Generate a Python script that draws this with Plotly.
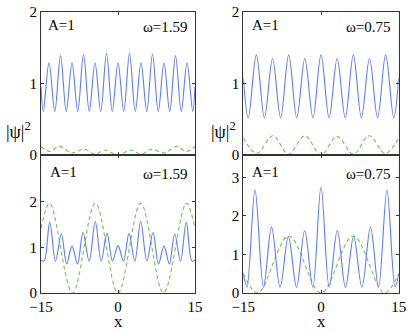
import plotly.graph_objects as go

# ---------------- data (extrema of each curve) ----------------
# top-left panel (omega = 1.59)
tl_blue_x = [-15, -14.56, -13.44, -12.32, -11.2, -10.08, -8.96, -7.84, -6.72, -5.6, -4.48, -3.36, -2.24, -1.12,
             0, 1.12, 2.24, 3.36, 4.48, 5.6, 6.72, 7.84, 8.96, 10.08, 11.2, 12.32, 13.44, 14.56, 15]
tl_blue_y = [0.95, 0.61, 1.29, 0.61, 1.39, 0.61, 1.29, 0.61, 1.41, 0.61, 1.29, 0.61, 1.42, 0.61,
             1.29, 0.61, 1.42, 0.61, 1.29, 0.61, 1.41, 0.61, 1.29, 0.61, 1.39, 0.61, 1.29, 0.61, 0.95]
tl_green_x = [-15, -13.3, -11.4, -9.1, -6.5, -4.5, -2.6, 0, 2.6, 4.5, 6.5, 9.1, 11.4, 13.3, 15]
tl_green_y = [0.12, 0.05, 0.12, 0.03, 0.08, 0.01, 0.07, 0.0, 0.07, 0.01, 0.08, 0.03, 0.12, 0.05, 0.12]

# top-right panel (omega = 0.75)
tr_blue_x = [-15, -14.04, -12.48, -10.92, -9.36, -7.8, -6.24, -4.68, -3.12, -1.56,
             0, 1.56, 3.12, 4.68, 6.24, 7.8, 9.36, 10.92, 12.48, 14.04, 15]
tr_blue_y = [1.08, 0.52, 1.40, 0.52, 1.35, 0.52, 1.40, 0.52, 1.35, 0.52,
             1.40, 0.52, 1.35, 0.52, 1.40, 0.52, 1.35, 0.52, 1.40, 0.52, 1.08]
tr_green_x = [-15, -12.4, -9.3, -6.25, -3.1, 0, 3.1, 6.25, 9.3, 12.4, 15]
tr_green_y = [0.24, 0.02, 0.27, 0.01, 0.27, 0.0, 0.26, 0.01, 0.27, 0.02, 0.24]

# bottom-left panel (omega = 1.59)
bl_blue_x = [-15, -14.4, -13.3, -12.17, -11.04, -10.0, -8.96, -7.89, -6.82, -5.62, -4.42, -3.28, -2.14, -1.07,
             0, 1.07, 2.14, 3.28, 4.42, 5.62, 6.82, 7.89, 8.96, 10.0, 11.04, 12.17, 13.3, 14.4, 15]
bl_blue_y = [0.72, 0.70, 1.55, 0.70, 1.30, 0.64, 1.03, 0.64, 1.33, 0.70, 1.57, 0.70, 1.31, 0.70,
             1.04, 0.70, 1.31, 0.70, 1.57, 0.70, 1.33, 0.64, 1.03, 0.64, 1.30, 0.70, 1.55, 0.70, 0.72]
bl_green_x = [-15, -13.3, -8.85, -4.42, 0, 4.42, 8.85, 13.3, 15]
bl_green_y = [1.42, 1.97, 0.0, 1.97, 0.0, 1.97, 0.0, 1.97, 1.42]

# bottom-right panel (omega = 0.75)
br_blue_x = [-15, -14.3, -12.74, -11.1, -9.55, -7.9, -6.3, -4.72, -3.15, -1.58,
             0, 1.58, 3.15, 4.72, 6.3, 7.9, 9.55, 11.1, 12.74, 14.3, 15]
br_blue_y = [0.50, 0.16, 2.67, 0.15, 1.71, 0.15, 1.47, 0.15, 1.62, 0.15,
             2.75, 0.15, 1.62, 0.15, 1.47, 0.15, 1.71, 0.15, 2.67, 0.16, 0.50]
br_green_x = [-15, -12.2, -6.2, 0, 6.2, 12.2, 15]
br_green_y = [0.5, 0.0, 1.48, 0.0, 1.48, 0.0, 0.5]

panel_A = ["A=1", "A=1", "A=1", "A=1"]
panel_w = ["ω=1.59", "ω=0.75", "ω=1.59", "ω=0.75"]
x_ticks = [-15, 0, 15]
x_ticktext = ["−15", "0", "15"]

# ---------------- figure ----------------
W, H = 409, 332
BLUE = "#5c7cf5"
GREEN = "#6cc64a"
AX = "#333333"
FONT = "Times New Roman, Liberation Serif, DejaVu Serif, serif"

fig = go.Figure()
series = [
    (tl_blue_x, tl_blue_y, tl_green_x, tl_green_y, "x", "y"),
    (tr_blue_x, tr_blue_y, tr_green_x, tr_green_y, "x2", "y2"),
    (bl_blue_x, bl_blue_y, bl_green_x, bl_green_y, "x3", "y3"),
    (br_blue_x, br_blue_y, br_green_x, br_green_y, "x4", "y4"),
]
for bx, by, gx, gy, xa, ya in series:
    fig.add_trace(go.Scatter(x=gx, y=gy, mode="lines", xaxis=xa, yaxis=ya,
                             line=dict(color=GREEN, width=1.1, dash="4px,3px", shape="spline", smoothing=1.0),
                             showlegend=False, hoverinfo="skip"))
    fig.add_trace(go.Scatter(x=bx, y=by, mode="lines", xaxis=xa, yaxis=ya,
                             line=dict(color=BLUE, width=1.1, shape="spline", smoothing=1.0),
                             showlegend=False, hoverinfo="skip"))

def px_x(p):
    return p / W

def px_y(p):
    return 1 - p / H

left_dom = [px_x(41), px_x(195)]
right_dom = [px_x(243.3), px_x(398.7)]
top_dom = [px_y(155), px_y(12)]
bot_dom = [px_y(293), px_y(155)]

common_axis = dict(showline=True, linecolor=AX, linewidth=1, mirror="ticks", ticks="inside",
                   ticklen=3, tickcolor=AX, showgrid=False, zeroline=False, automargin=False,
                   tickfont=dict(family=FONT, size=15, color="black"))

fig.update_layout(
    width=W, height=H, margin=dict(l=0, r=0, t=0, b=0),
    paper_bgcolor="white", plot_bgcolor="white",
    font=dict(family=FONT, color="black"),
    xaxis=dict(domain=left_dom, anchor="y", range=[-15, 15], tickvals=x_ticks, showticklabels=False, **common_axis),
    yaxis=dict(domain=top_dom, anchor="x", range=[0, 2], tickvals=[0, 1, 2], **common_axis),
    xaxis2=dict(domain=right_dom, anchor="y2", range=[-15, 15], tickvals=x_ticks, showticklabels=False, **common_axis),
    yaxis2=dict(domain=top_dom, anchor="x2", range=[0, 2], tickvals=[0, 1, 2], **common_axis),
    xaxis3=dict(domain=left_dom, anchor="y3", range=[-15, 15], tickvals=x_ticks, ticktext=x_ticktext, **common_axis),
    yaxis3=dict(domain=bot_dom, anchor="x3", range=[0, 3.03], tickvals=[0, 1, 2], **common_axis),
    xaxis4=dict(domain=right_dom, anchor="y4", range=[-15, 15], tickvals=x_ticks, ticktext=x_ticktext, **common_axis),
    yaxis4=dict(domain=bot_dom, anchor="x4", range=[0, 3.58], tickvals=[0, 1, 2, 3], **common_axis),
)

ann = []
txt_font = dict(family=FONT, size=15, color="black")
# panel labels
for i, (xl, xr, yc) in enumerate([(46, 190, 25), (250, 393, 25), (48, 190, 172), (250, 393, 172)]):
    ann.append(dict(x=px_x(xl), y=px_y(yc), xref="paper", yref="paper", text=panel_A[i],
                    xanchor="left", yanchor="middle", showarrow=False, font=txt_font))
    ann.append(dict(x=px_x(xr), y=px_y(yc + 2), xref="paper", yref="paper", text=panel_w[i],
                    xanchor="right", yanchor="middle", showarrow=False, font=txt_font))
# y labels
for xl in (4, 209):
    ann.append(dict(x=px_x(xl), y=px_y(130), xref="paper", yref="paper", text="|ψ|<sup>2</sup>",
                    xanchor="left", yanchor="middle", showarrow=False,
                    font=dict(family=FONT, size=18, color="black")))
# x labels
for xc in (118, 321):
    ann.append(dict(x=px_x(xc), y=px_y(321), xref="paper", yref="paper", text="x",
                    xanchor="center", yanchor="middle", showarrow=False,
                    font=dict(family=FONT, size=17, color="black")))
fig.update_layout(annotations=ann)

fig.write_html("out.html", config={"displayModeBar": False, "staticPlot": True},
               post_script="document.body.style.margin='0px';document.body.style.overflow='hidden';")
